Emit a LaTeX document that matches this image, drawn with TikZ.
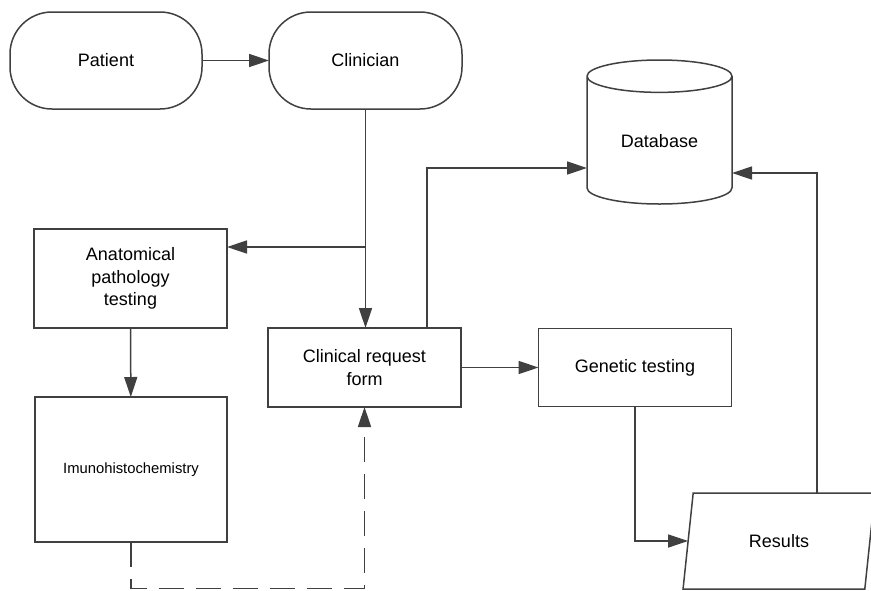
\documentclass[tikz,border=0pt]{standalone}
\usepackage{fontspec}
\setmainfont{Liberation Sans}
\usetikzlibrary{arrows.meta,shapes.geometric}

\tikzset{
  box/.style={draw=black!75, line width=1.5pt, inner sep=0pt, outer sep=0pt,
    align=center, font=\fontsize{18}{22.5}\selectfont},
  pill/.style={box, rounded corners=42pt},
  arr/.style={draw=black!75, line width=1.5pt, -{Triangle[length=20pt,width=13pt]}},
  dashline/.style={arr, dash pattern=on 25pt off 12pt}
}

\begin{document}
\begin{tikzpicture}[x=1pt, y=-1pt]
\useasboundingbox (0,0) rectangle (871,590);

% Top row
\node[pill, minimum width=192pt, minimum height=97pt] (pat) at (106, 60.5) {Patient};
\node[pill, minimum width=193pt, minimum height=97pt] (clin) at (365.5, 60.5) {Clinician};

% Left column
\node[box, minimum width=193pt, minimum height=99pt] (anat) at (130.5, 278.5) {Anatomical\\pathology\\testing};
\node[box, minimum width=192pt, minimum height=145pt, font=\fontsize{14.8}{18}\selectfont] (imu) at (131, 469.5) {Imunohistochemistry};

% Middle row
\node[box, minimum width=193pt, minimum height=79pt] (crf) at (364.5, 367.5) {Clinical request\\form};
\node[box, minimum width=193pt, minimum height=78pt] (gen) at (635, 367.5) {Genetic testing};

% Database and results
\node[box, cylinder, shape border rotate=90, aspect=0.42, anchor=shape center,
  minimum width=145pt, minimum height=144pt] (db) at (659.5, 132) {\raisebox{-14pt}{Database}};
\node[box, trapezium, trapezium left angle=75, trapezium right angle=105,
  trapezium stretches=true, minimum width=192pt, minimum height=96pt] (res) at (779, 541) {Results};

% Connectors
\coordinate (split) at (clin.south |- 0, 247);
\coordinate (dashturn) at (crf.south |- 0, 588.5);

\draw[arr] (pat) -- (clin);
\draw[arr] (clin.south) -- (clin.south |- crf.north);
\draw[arr] (split) -- (split -| anat.east);
\draw[arr] (anat) -- (imu);
\draw[dashline] (imu.south) |- (dashturn) -- (crf.south);
\draw[arr] (crf) -- (gen);
\draw[arr] ([xshift=62.5pt]crf.north) |- (db.west |- 0, 168);
\draw[arr] (gen.south) |- (res.west);
\draw[arr] ([xshift=38pt]res.north) |- (db.east |- 0, 173);

\end{tikzpicture}
\end{document}
